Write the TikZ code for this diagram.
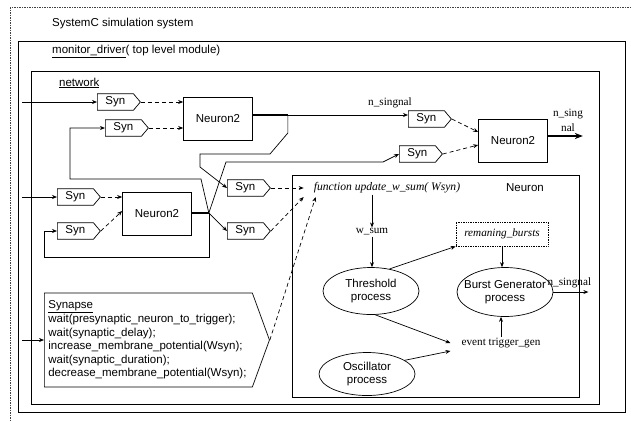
\documentclass[tikz,border=0pt]{standalone}
\usepackage{fontspec}
\setmainfont{Liberation Sans}
\newfontfamily\timesfont{Liberation Serif}
\usetikzlibrary{shapes.symbols,shapes.geometric,arrows.meta,calc}

\tikzset{
	wire/.style={line width=0.7pt},
	feed/.style={wire, -{Stealth[length=5pt,width=4pt]}},
	spike/.style={wire, dash pattern=on 4pt off 3pt, -{Stealth[length=5pt,width=4pt]}},
	thickwire/.style={line width=1.6pt},
	synbox/.style={draw, wire, signal, signal to=east, signal pointer angle=100,
		minimum width=43pt, minimum height=16.5pt, inner sep=0pt, anchor=west},
	neuronbox/.style={draw, wire, minimum width=69pt, minimum height=43pt, inner sep=0pt},
	procell/.style={draw, wire, ellipse, minimum width=96pt, minimum height=47pt,
		inner sep=-10pt, align=center},
	sertext/.style={font=\timesfont\fontsize{11.2}{15}\selectfont, inner sep=1pt}
}

\begin{document}
\begin{tikzpicture}[x=1pt, y=-1pt, font=\fontsize{11.5}{13.6}\selectfont]
	\useasboundingbox (0,0) rectangle (631,421);

	% frames
	\draw [black!75, line width=0.8pt, dash pattern=on 1.5pt off 1pt] (10,7) rectangle (660,450);
	\node [anchor=west, inner sep=0pt] (simlabel) at (52,24) {SystemC simulation system};
	\draw [wire] (18,41) rectangle (625,412);
	\node [anchor=west, inner sep=0pt] (modlabel) at (52,51) {\underline{monitor\_driver}( top level module)};
	\draw [wire] (31,71) rectangle (599,404);
	\node [anchor=west, inner sep=0pt] (netlabel) at (59,83) {\underline{network}};

	% neurons and synapses of the network
	\node [neuronbox] (n2a) at (218,119) {Neuron2};
	\node [neuronbox] (n2b) at (513,141) {Neuron2};
	\node [neuronbox] (n2c) at (157,214) {Neuron2};

	\node [synbox] (synA) at (97,102) {Syn};
	\node [synbox] (synB) at (105,128) {Syn};
	\node [synbox] (synC) at (408,119) {Syn};
	\node [synbox] (synD) at (399,154) {Syn};
	\node [synbox] (synE) at (57,197) {Syn};
	\node [synbox] (synF) at (57,231) {Syn};
	\node [synbox] (synG) at (227,188) {Syn};
	\node [synbox] (synH) at (227,231) {Syn};

	\node [draw, wire, signal, signal to=east, signal pointer angle=140, minimum height=94pt,
		text width=200pt, align=left, inner xsep=4pt, inner ysep=0pt, anchor=west] (synapse) at (44,340)
		{\underline{Synapse}\\
		wait(presynaptic\_neuron\_to\_trigger);\\
		wait(synaptic\_delay);\\
		increase\_membrane\_potential(Wsyn);\\
		wait(synaptic\_duration);\\
		decrease\_membrane\_potential(Wsyn);};

	% inputs
	\coordinate (inA) at (22,102);
	\coordinate (inE) at (22,197);
	\coordinate (inS) at ($(synapse.west)+(-22,0)$);
	\draw [feed] (inA) -- (synA.west);
	\draw [feed] (inE) -- (synE.west);
	\draw [feed] (inS) -- (synapse.west);

	% synapse to neuron
	\draw [spike] (synA.east) -- (synA.east -| n2a.west);
	\draw [spike] (synB.east) -- (synB.east -| n2a.west);
	\draw [spike] (synC.east) -- ($(n2b.west)+(0,-9)$);
	\draw [spike] (synD.east) -- ($(n2b.west)+(0,4)$);
	\draw [spike] (synE.east) -- (synE.east -| n2c.west);
	\draw [spike] (synF.east) -- ($(n2c.west)+(0,-3)$);

	% outputs of the neurons
	\coordinate (ja) at ($(n2a.east)+(35,-4)$);
	\draw [thickwire] ($(n2a.east)+(0,-4)$) -- (ja);
	\draw [feed] (ja) -- (ja -| synC.west);
	\node [sertext] (siglabel) at (390,103) {n\_singnal};
	\draw [feed] (ja) -- ++(0,18) -- (270,154) -- (200,154) -- (200,167) -- (synG.west);

	\coordinate (jc) at ($(n2c.east)+(17,-1)$);
	\draw [thickwire] ($(n2c.east)+(0,-1)$) -- (jc);
	\draw [feed] (jc) -- (226,162) -- (383,162) -- (synD.west);
	\draw [feed] (jc) -- (201,179) -- (70,179) -- (70,128) -- (synB.west);
	\draw [feed] (jc) -- (synH.west);
	\draw [feed] (jc) -- (jc |- 0,257) -- (44,257) -- (44,231) -- (synF.west);

	\coordinate (outb) at ($(n2b.east)+(35,-5)$);
	\draw [thickwire, -{Stealth[length=8pt,width=6pt]}] ($(n2b.east)+(0,-5)$) -- (outb);
	\node [sertext, align=center] (outlabel) at (568,120) {n\_sing\\nal};

	% neuron module
	\draw [wire] (292,175) rectangle (579,397);
	\node (neuronlabel) at (525,188) {Neuron};
	\node [sertext, font=\timesfont\itshape\fontsize{11.6}{14}\selectfont, inner xsep=10pt] (func) at (387,188)
		{function update\_w\_sum( Wsyn)};
	\node [sertext] (wsum) at (372,232) {w\_sum};
	\node [procell] (thr) at (371,291) {Threshold\\process};
	\node [draw, wire, densely dotted, sertext, font=\timesfont\itshape\fontsize{11.2}{14}\selectfont,
		minimum width=92pt, minimum height=24pt] (rem) at (502,234) {remaning\_bursts};
	\node [procell, minimum height=49pt] (burst) at (505,292) {Burst Generator\\process};
	\node [sertext, inner xsep=11pt] (event) at (501,343) {event trigger\_gen};
	\node [procell, minimum height=43pt] (osc) at (367,374) {Oscillator\\process};

	\draw [spike] (synG.east) -- (func.west);
	\draw [spike] (synH.east) -- ($(func.west)+(0,9)$);
	\draw [spike] (synapse.east) -- ($(func.west)+(12,9)$);

	\draw [feed] (func.south -| wsum) -- (wsum.north);
	\draw [feed] (wsum.south) -- (wsum.south |- thr.north);
	\draw [feed] (thr.50) -- (rem.south west);
	\draw [feed] (rem.south) -- (rem.south |- burst.north);
	\coordinate (nsig) at ($(burst.east)+(35,0)$);
	\draw [feed] (burst.east) -- (nsig);
	\node [sertext, anchor=west] (nsiglabel) at ($(burst.east)+(-7,-9)$) {n\_singnal};
	\draw [feed] (event.north) -- (event.north |- burst.south);
	\draw [feed] (thr.-80) -- (event.west);
	\draw [feed] (osc.20) -- ($(event.west)+(0,8)$);
\end{tikzpicture}
\end{document}
